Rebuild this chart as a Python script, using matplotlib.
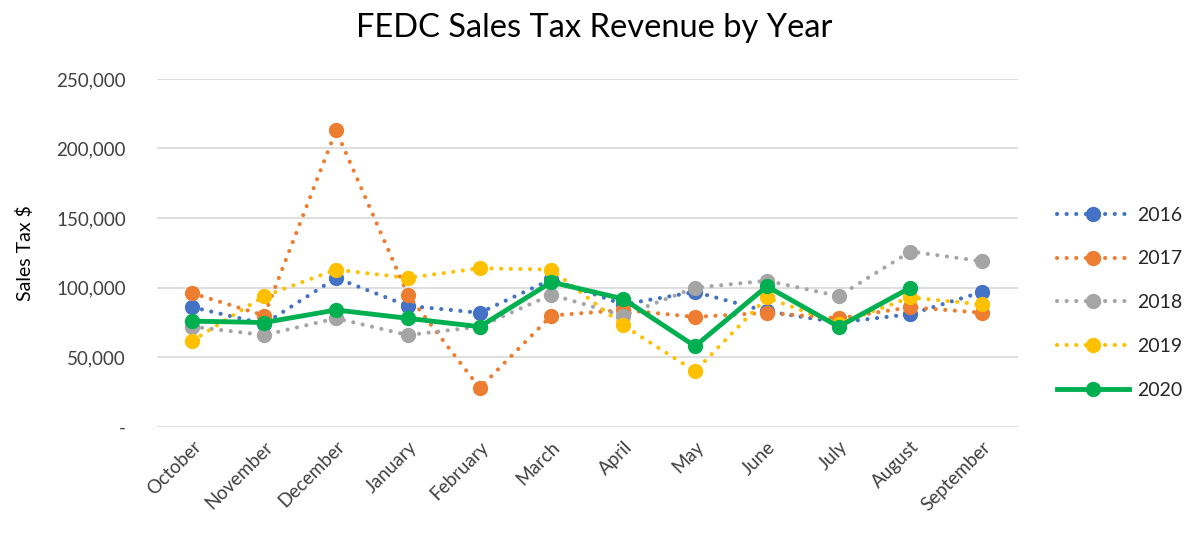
import matplotlib
matplotlib.use("Agg")
import matplotlib.pyplot as plt
from matplotlib.ticker import FuncFormatter

months = ["October", "November", "December", "January", "February", "March",
          "April", "May", "June", "July", "August", "September"]
years = ["2016", "2017", "2018", "2019", "2020"]
s2016 = [86000, 74000, 107000, 87000, 82000, 106000, 88000, 97000, 83000, 75000, 81000, 97000]
s2017 = [96000, 80000, 213000, 95000, 28000, 80000, 84000, 79000, 82000, 78000, 86000, 82000]
s2018 = [72000, 66000, 78000, 66000, 72000, 95000, 80000, 100000, 105000, 94000, 126000, 119000]
s2019 = [62000, 94000, 113000, 107000, 114000, 113000, 73000, 40000, 93000, 74000, 93000, 88000]
s2020 = [76000, 75000, 84000, 78000, 72000, 104000, 92000, 58000, 101000, 72000, 100000]
series = [s2016, s2017, s2018, s2019, s2020]
colors = ["#4472C4", "#ED7D31", "#A5A5A5", "#FFC000", "#00B050"]

plt.rcParams['font.family'] = ['Lato', 'DejaVu Sans']
fig = plt.figure(figsize=(11.95, 5.33), dpi=100)
ax = fig.add_axes([0.131, 0.199, 0.721, 0.653])

for i, (name, vals, c) in enumerate(zip(years, series, colors)):
    x = list(range(len(vals)))
    if name == "2020":
        ax.plot(x, vals, color=c, lw=3.5, marker='o', ms=10, label=name, zorder=5 + i,
                solid_joinstyle='round')
    else:
        ax.plot(x, vals, color=c, lw=3, linestyle=(0, (0.01, 2.3)), dash_capstyle='round',
                marker='o', ms=10, label=name, zorder=2 + i)

ax.set_ylim(0, 250000)
ax.set_xlim(-0.5, len(months) - 0.5)
ax.set_yticks([0, 50000, 100000, 150000, 200000, 250000])
ax.yaxis.set_major_formatter(FuncFormatter(lambda v, p: "-" if v == 0 else f"{int(v):,}"))
ax.set_xticks(range(len(months)))
ax.set_xticklabels(months, rotation=45, ha='right', rotation_mode='anchor')
ax.grid(axis='y', color='#D9D9D9', lw=1.2)
ax.set_axisbelow(True)
for s in ax.spines.values():
    s.set_visible(False)
ax.tick_params(axis='both', length=0, labelsize=13.5, labelcolor='#404040', pad=8)
ax.tick_params(axis='y', pad=22)
ax.set_ylabel("Sales Tax $", fontsize=14, color='#000000', labelpad=16)
fig.text(0.497, 0.948, "FEDC Sales Tax Revenue by Year", ha='center', va='center',
         fontsize=23.5, color='#000000')

leg = ax.legend(loc='center left', bbox_to_anchor=(1.025, 0.357), frameon=False,
                fontsize=14, labelspacing=1.38, handlelength=3.7, handletextpad=0.4,
                markerscale=1.0)
for t in leg.get_texts():
    t.set_color('#262626')

fig.savefig("out.png", dpi=100)
